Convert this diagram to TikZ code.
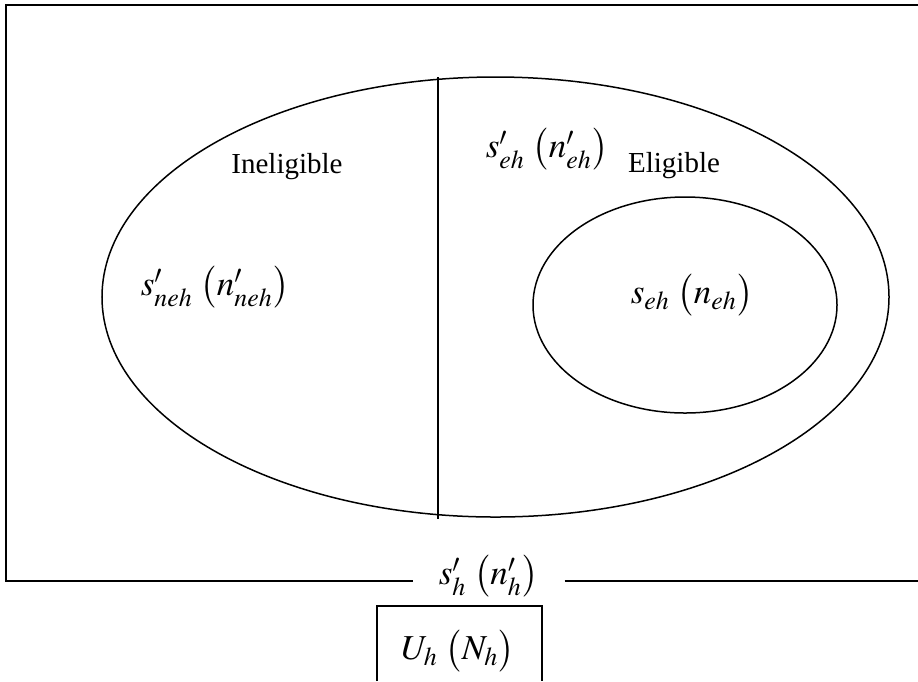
\documentclass[tikz,border=0pt]{standalone}
\usepackage{mathptmx}
\usepackage{fontspec}
\setmainfont{Liberation Serif}
\usetikzlibrary{shapes.geometric}

\begin{document}
\begin{tikzpicture}[x=0.4pt,y=-0.4pt,font=\fontsize{11.6}{14}\selectfont,
  rim/.style={line width=0.6pt}, frame/.style={line width=0.9pt},
  sym/.style={font=\fontsize{14}{17}\selectfont}]
\useasboundingbox (0,0) rectangle (918,681);
\coordinate (tl) at (6,5);
\coordinate (bl) at (6,581);
\node[sym,minimum width=60.4pt,inner sep=0pt] (sh) at (488.5,576) {$s'_h\;\bigl(n'_h\bigr)$};
\draw[frame] (918,5) -- (tl) -- (bl) -- (sh.west |- bl);
\draw[frame] (sh.east |- bl) -- (918,581);
\node[draw,rim,ellipse,minimum width=314.8pt,minimum height=176pt] (outer) at (495.5,297) {};
\node[draw,rim,ellipse,minimum width=121.6pt,minimum height=86.4pt] (inner) at (685,305) {};
\draw[rim] (438,77) -- (438,519);
\node (inel) at (287,167) {Ineligible};
\node (elig) at (674,166) {Eligible};
\node[sym] (sneh) at (215,287) {$s'_{neh}\;\bigl(n'_{neh}\bigr)$};
\node[sym] (sehp) at (547,149) {$s'_{eh}\;\bigl(n'_{eh}\bigr)$};
\node[sym] (seh) at (692,295) {$s_{eh}\;\bigl(n_{eh}\bigr)$};
\node[sym,inner sep=0pt] (uh) at (458,651) {$U_h\;\bigl(N_h\bigr)$};
\draw[rim] (377,681) -- (377,606) -- (542,606) -- (542,681);
\end{tikzpicture}
\end{document}
